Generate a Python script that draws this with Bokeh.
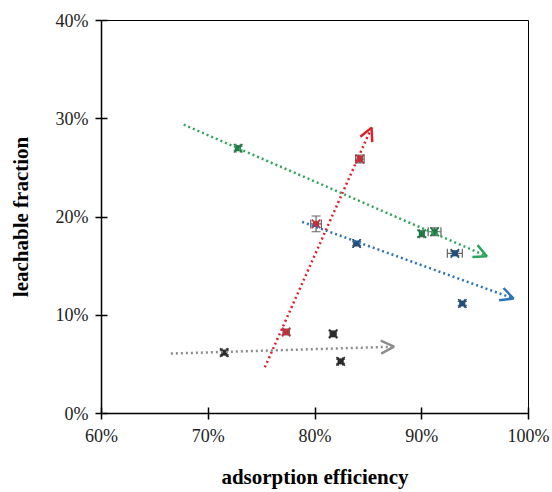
from bokeh.plotting import figure
from bokeh.models import (Range1d, NumeralTickFormatter, FixedTicker, ColumnDataSource,
                          Whisker, TeeHead, Arrow, OpenHead)
from bokeh.embed import file_html
from bokeh.resources import INLINE

# ---- data (fractions) ----
x_ticks = [0.6, 0.7, 0.8, 0.9, 1.0]
y_ticks = [0.0, 0.1, 0.2, 0.3, 0.4]

green_x = [0.728, 0.900, 0.912]
green_y = [0.270, 0.183, 0.185]
green_xerr = [0.002, 0.002, 0.006]
green_yerr = [0.002, 0.003, 0.004]

blue_x = [0.839, 0.931, 0.938]
blue_y = [0.173, 0.163, 0.112]
blue_xerr = [0.003, 0.007, 0.002]
blue_yerr = [0.002, 0.002, 0.002]

red_x = [0.801, 0.842, 0.773]
red_y = [0.193, 0.259, 0.083]
red_xerr = [0.005, 0.004, 0.003]
red_yerr = [0.008, 0.004, 0.003]

black_x = [0.715, 0.817, 0.824]
black_y = [0.062, 0.081, 0.053]
black_xerr = [0.002, 0.003, 0.002]
black_yerr = [0.002, 0.003, 0.002]

# trend arrows: (x_start, y_start, x_end, y_end)
green_trend = [0.677, 0.294, 0.961, 0.160]
blue_trend = [0.788, 0.195, 0.986, 0.117]
red_trend = [0.753, 0.047, 0.853, 0.291]
gray_trend = [0.665, 0.061, 0.874, 0.068]

FONT = "Liberation Serif"

p = figure(width=552, height=492, output_backend="svg", toolbar_location=None,
           x_range=Range1d(0.6, 1.0), y_range=Range1d(0.0, 0.4),
           min_border_left=101, min_border_right=24, min_border_top=20, min_border_bottom=79)
p.background_fill_color = "white"
p.border_fill_color = "white"
p.grid.visible = False
p.outline_line_color = "black"
p.outline_line_width = 1

for ax, ticks in ((p.xaxis[0], x_ticks), (p.yaxis[0], y_ticks)):
    ax.ticker = FixedTicker(ticks=ticks)
    ax.formatter = NumeralTickFormatter(format="0%")
    ax.minor_tick_line_color = None
    ax.major_tick_in = 6
    ax.major_tick_out = 6
    ax.axis_line_color = "black"
    ax.axis_line_width = 1.5
    ax.major_tick_line_width = 1.5
    ax.major_label_text_font = FONT
    ax.major_label_text_font_size = "18px"
    ax.major_label_text_color = "#222222"
    ax.axis_label_text_font = FONT
    ax.axis_label_text_font_style = "bold"
    ax.axis_label_text_font_size = "21px"
    ax.axis_label_text_color = "black"

p.xaxis.axis_label = "adsorption efficiency"
p.yaxis.axis_label = "leachable fraction"
p.xaxis.major_label_standoff = 6
p.yaxis.major_label_standoff = 7
p.xaxis.axis_label_standoff = 16
p.yaxis.axis_label_standoff = 20

# ---- trend arrows ----
for tr, col in ((green_trend, "#2ea55a"), (blue_trend, "#2b74b8"),
                (red_trend, "#e0202a"), (gray_trend, "#8c8c8c")):
    p.add_layout(Arrow(x_start=tr[0], y_start=tr[1], x_end=tr[2], y_end=tr[3],
                       line_color=col, line_width=2.5, line_dash="2 3",
                       end=OpenHead(size=13, line_color=col, line_width=2.5)))

# ---- points with error bars ----
series = [
    (green_x, green_y, green_xerr, green_yerr, "#1f7a45"),
    (blue_x, blue_y, blue_xerr, blue_yerr, "#1f4f7a"),
    (red_x, red_y, red_xerr, red_yerr, "#c0303a"),
    (black_x, black_y, black_xerr, black_yerr, "#2a2a2a"),
]
for xs, ys, xe, ye, col in series:
    src = ColumnDataSource(dict(
        x=xs, y=ys,
        xl=[a - b for a, b in zip(xs, xe)], xu=[a + b for a, b in zip(xs, xe)],
        yl=[a - b for a, b in zip(ys, ye)], yu=[a + b for a, b in zip(ys, ye)]))
    p.add_layout(Whisker(source=src, base="y", lower="xl", upper="xu", dimension="width",
                         line_color="#666666", line_width=1.2,
                         lower_head=TeeHead(size=9, line_color="#666666", line_width=1.2),
                         upper_head=TeeHead(size=9, line_color="#666666", line_width=1.2)))
    p.add_layout(Whisker(source=src, base="x", lower="yl", upper="yu", dimension="height",
                         line_color="#666666", line_width=1.2,
                         lower_head=TeeHead(size=9, line_color="#666666", line_width=1.2),
                         upper_head=TeeHead(size=9, line_color="#666666", line_width=1.2)))
    p.scatter("x", "y", source=src, marker="x", size=12, line_color=col, line_width=1.6)
    p.scatter("x", "y", source=src, marker="square", size=5, fill_color=col, line_color=col)

open("out.html", "w").write(file_html(p, INLINE))
